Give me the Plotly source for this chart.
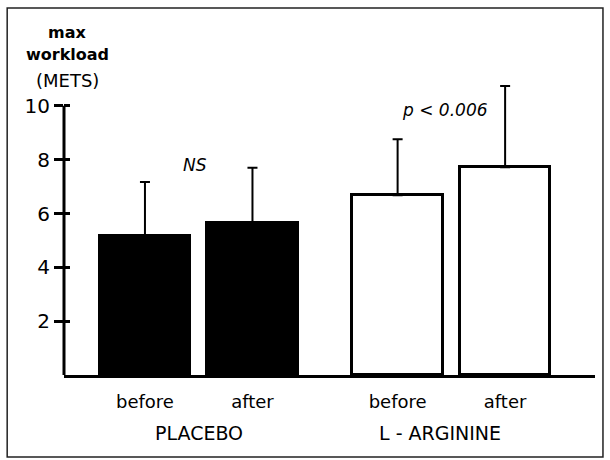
import plotly.graph_objects as go

# ---- data ----
groups = ["PLACEBO", "L - ARGININE"]
conditions = ["before", "after"]
placebo_mean = [5.15, 5.66]
placebo_sd = [2.02, 2.04]
arginine_mean = [6.68, 7.72]
arginine_sd = [2.08, 3.02]
y_ticks = [2, 4, 6, 8, 10]
annot_texts = ["NS", "p < 0.006"]
y_title = ["<b>max</b>", "<b>workload</b>", "(METS)"]

# ---- layout constants ----
GROUP_STEP = 2.35
BAR_W = 0.84
FONT = "DejaVu Sans"

def positions(g):
    return [g * GROUP_STEP + i for i in range(len(conditions))]

fig = go.Figure()
fig.add_trace(go.Bar(
    x=positions(0), y=placebo_mean, width=BAR_W,
    marker=dict(color="black", line=dict(color="black", width=3)),
    error_y=dict(type="data", symmetric=False, array=placebo_sd,
                 arrayminus=[0] * len(placebo_sd), color="black",
                 thickness=2, width=5),
    showlegend=False, hoverinfo="skip"))
fig.add_trace(go.Bar(
    x=positions(1), y=arginine_mean, width=BAR_W,
    marker=dict(color="white", line=dict(color="black", width=3)),
    error_y=dict(type="data", symmetric=False, array=arginine_sd,
                 arrayminus=[0] * len(arginine_sd), color="black",
                 thickness=2, width=5),
    showlegend=False, hoverinfo="skip"))

# invisible trace on overlay axis for inside ticks
fig.add_trace(go.Scatter(x=[None], y=[None], yaxis="y2", showlegend=False,
                         hoverinfo="skip"))

tickvals = positions(0) + positions(1)
ticktext = conditions * 2

fig.update_layout(
    width=610, height=460,
    margin=dict(l=64, r=15, t=52, b=85),
    paper_bgcolor="white", plot_bgcolor="white",
    font=dict(family=FONT, size=17, color="black"),
    bargap=0,
    xaxis=dict(range=[-0.753, 4.186], tickvals=tickvals, ticktext=ticktext,
               showgrid=False, zeroline=False, showline=True,
               linecolor="black", linewidth=3, ticks="",
               ticklabelstandoff=8, tickfont=dict(size=18)),
    yaxis=dict(range=[0, 12], tickvals=y_ticks, showgrid=False,
               zeroline=False, showline=False, ticks="outside",
               ticklen=9, tickwidth=3, tickcolor="black",
               tickfont=dict(size=20)),
    yaxis2=dict(range=[0, 12], overlaying="y", side="left", tickvals=y_ticks,
                showticklabels=False, showgrid=False, zeroline=False,
                ticks="inside", ticklen=6, tickwidth=3, tickcolor="black"),
)

# y axis line only from 0 to top tick
fig.add_shape(type="line", xref="paper", yref="y", x0=0, x1=0,
              y0=0, y1=max(y_ticks), line=dict(color="black", width=3))

# frame
fig.add_shape(type="rect", xref="paper", yref="paper",
              x0=-0.107, x1=1.015, y0=-0.254, y1=1.136,
              line=dict(color="#222", width=1.5))

# group labels
group_shift = [0.0, -0.11]
for g, name in enumerate(groups):
    p = positions(g)
    fig.add_annotation(x=sum(p) / len(p) + group_shift[g], y=-0.18,
                       xref="x", yref="paper",
                       text=name, showarrow=False, font=dict(size=19),
                       yanchor="middle")

# significance annotations
fig.add_annotation(x=sum(positions(0)) / 2 - 0.03, y=7.8, xref="x", yref="y",
                   text="<i>" + annot_texts[0] + "</i>", showarrow=False,
                   font=dict(size=17))
fig.add_annotation(x=sum(positions(1)) / 2 - 0.06, y=9.85, xref="x", yref="y",
                   text="<i>" + annot_texts[1] + "</i>", showarrow=False,
                   font=dict(size=17))

# y title, one annotation per line
title_y = [1.059, 0.991, 0.913]
title_size = [16, 16, 18]
for txt, yy, sz in zip(y_title, title_y, title_size):
    fig.add_annotation(x=0.006, y=yy, xref="paper", yref="paper",
                       text=txt, showarrow=False, xanchor="center",
                       yanchor="middle", font=dict(size=sz))

fig.write_html("out.html",
               config={"displayModeBar": False},
               post_script="document.body.style.margin='0px';")
